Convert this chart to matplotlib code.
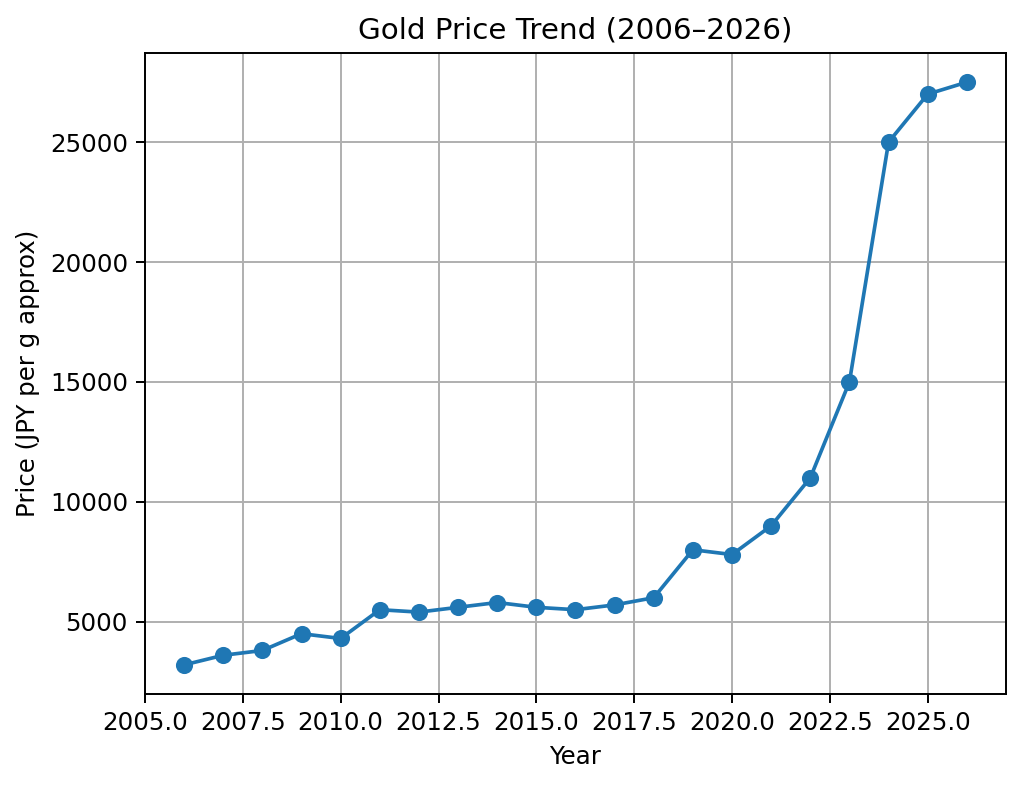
import matplotlib
matplotlib.use("Agg")
import matplotlib.pyplot as plt

# ----- data -----
years = [2006, 2007, 2008, 2009, 2010, 2011, 2012, 2013, 2014, 2015, 2016,
         2017, 2018, 2019, 2020, 2021, 2022, 2023, 2024, 2025, 2026]
prices = [3200, 3600, 3800, 4500, 4300, 5500, 5400, 5600, 5800, 5600, 5500,
          5700, 6000, 8000, 7800, 9000, 11000, 15000, 25000, 27000, 27500]

# ----- chart -----
dpi = 176
fig = plt.figure(figsize=(1024 / dpi, 788 / dpi), dpi=dpi)
ax = fig.add_axes([0.1416, 0.1193, 0.8408, 0.8134])
ax.plot(years, prices, marker="o")
ax.set_title("Gold Price Trend (2006\u20132026)")
ax.set_xlabel("Year")
ax.set_ylabel("Price (JPY per g approx)")
ax.grid(True)

fig.savefig("out.png", dpi=dpi)
plt.close(fig)
